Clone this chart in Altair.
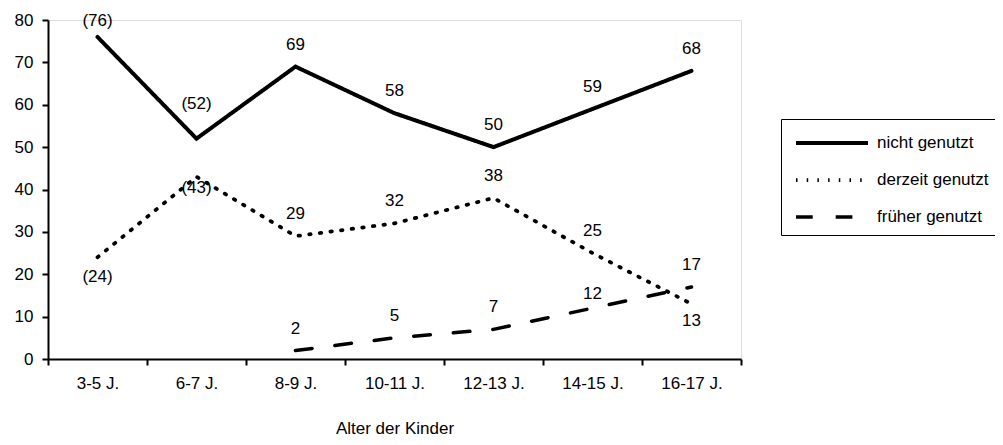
import altair as alt
import pandas as pd

categories = ["3-5 J.", "6-7 J.", "8-9 J.", "10-11 J.", "12-13 J.", "14-15 J.", "16-17 J."]
series_names = ["nicht genutzt", "derzeit genutzt", "früher genutzt"]
nicht_genutzt = [76, 52, 69, 58, 50, 59, 68]
derzeit_genutzt = [24, 43, 29, 32, 38, 25, 13]
frueher_genutzt = [None, None, 2, 5, 7, 12, 17]
nicht_labels = ["(76)", "(52)", "69", "58", "50", "59", "68"]
derzeit_labels = ["(24)", "(43)", "29", "32", "38", "25", "13"]
frueher_labels = [None, None, "2", "5", "7", "12", "17"]

FONT = "Liberation Sans"
FS = 17

# label placement (pixel offsets from the data point)
DEFAULT_DY = -22
special_dy = {
    ("nicht genutzt", "3-5 J."): -16,
    ("nicht genutzt", "6-7 J."): -35,
    ("derzeit genutzt", "3-5 J."): 20,
    ("derzeit genutzt", "6-7 J."): 11,
    ("derzeit genutzt", "16-17 J."): 17,
    ("früher genutzt", "14-15 J."): -14,
}

rows = []
for name, vals, labs in zip(series_names,
                            [nicht_genutzt, derzeit_genutzt, frueher_genutzt],
                            [nicht_labels, derzeit_labels, frueher_labels]):
    for c, v, l in zip(categories, vals, labs):
        if v is None:
            continue
        rows.append({"Alter": c, "Serie": name, "Wert": v, "Label": l,
                     "dy": special_dy.get((name, c), DEFAULT_DY)})
df = pd.DataFrame(rows)

x_enc = alt.X(
    "Alter:N", sort=categories, bandPosition=0.5,
    scale=alt.Scale(type="band", paddingInner=0, paddingOuter=0),
    axis=alt.Axis(title="Alter der Kinder", labelAngle=0, tickBand="extent",
                  domainColor="black", domainWidth=2, tickColor="black",
                  tickWidth=2, tickSize=6, labelPadding=10, labelColor="black",
                  labelFont=FONT, labelFontSize=FS, titleFont=FONT,
                  titleFontSize=FS, titleFontWeight="normal", titleColor="black",
                  titlePadding=29),
)
y_enc = alt.Y(
    "Wert:Q",
    scale=alt.Scale(domain=[0, 80], nice=False),
    axis=alt.Axis(title=None, values=list(range(0, 81, 10)), grid=False,
                  domainColor="black", domainWidth=2, tickColor="black",
                  tickWidth=2, tickSize=6, labelPadding=9, labelColor="black",
                  labelFont=FONT, labelFontSize=FS),
)

SYM = 24.0  # base symbol size; the custom path is 3x wider than the unit stroke
legend = alt.Legend(
    title=None, orient="none", legendX=733, legendY=99,
    symbolType="M-3,0H3", symbolSize=SYM * SYM, symbolStrokeColor="black",
    symbolOffset=27, labelOffset=31,
    labelFont=FONT, labelFontSize=FS, labelColor="black",
    strokeColor="black", padding=10, rowPadding=15,
)

base = alt.Chart(df)

lines = base.mark_line(color="black", strokeCap="round", strokeJoin="miter").encode(
    x=x_enc,
    y=y_enc,
    detail="Serie:N",
    strokeDash=alt.StrokeDash(
        "Serie:N", sort=series_names,
        scale=alt.Scale(domain=series_names, range=[[1, 0], [1.5, 9.2], [16.7, 23]]),
        legend=legend),
    strokeWidth=alt.StrokeWidth(
        "Serie:N", sort=series_names,
        scale=alt.Scale(domain=series_names, range=[4, 3.5, 5]),
        legend=legend),
)

layers = [lines]
for dy in sorted(df["dy"].unique()):
    layers.append(
        base.transform_filter(alt.datum.dy == int(dy)).mark_text(
            dy=int(dy), font=FONT, fontSize=FS, color="black", baseline="middle"
        ).encode(x=x_enc, y=y_enc, text="Label:N")
    )

chart = alt.layer(*layers).properties(
    width=693, height=339,
    autosize=alt.AutoSizeParams(type="none"),
    padding={"left": 40, "top": 12, "right": 254, "bottom": 85},
).configure_view(stroke=None).configure(background="white")

chart.save("out.html", embed_options={"renderer": "svg", "actions": False})
